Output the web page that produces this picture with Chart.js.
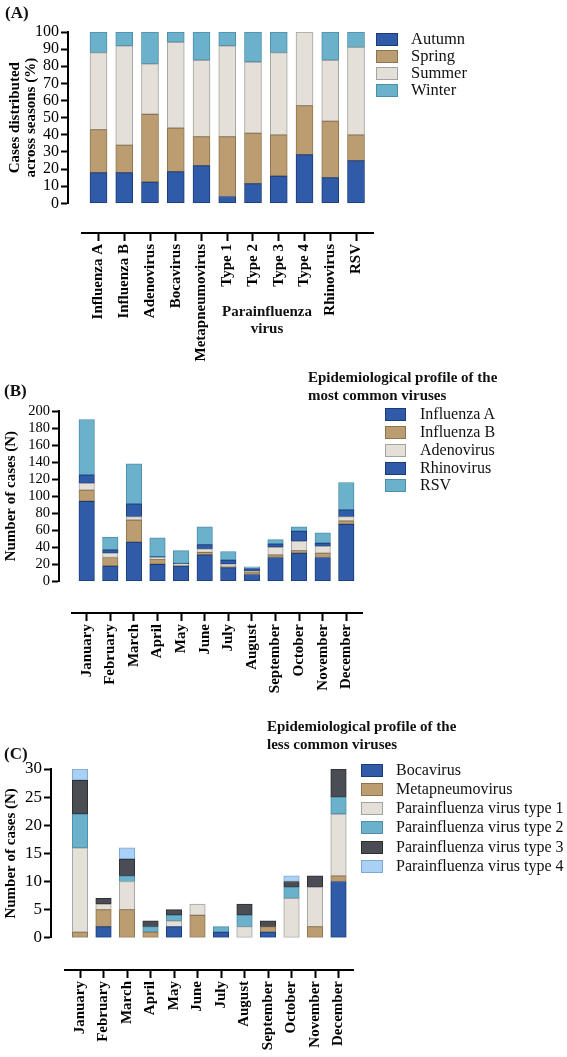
<!DOCTYPE html>
<html><head><meta charset="utf-8">
<script src="https://cdn.jsdelivr.net/npm/chart.js@4.4.1/dist/chart.umd.min.js"></script>
<style>
html,body{margin:0;padding:0;background:#fff;}
body{width:567px;height:1057px;position:relative;overflow:hidden;font-family:"Liberation Serif","Times New Roman",serif;color:#111;}
canvas{position:absolute;}
.t{position:absolute;white-space:nowrap;z-index:2;}
.b{font-weight:bold;}
.sw{position:absolute;box-sizing:border-box;border:1px solid #333;z-index:2;}
</style></head>
<body>
<canvas id="aBars" width="380" height="215" style="left:0;top:0"></canvas>
<canvas id="aAxis" width="395" height="145" style="left:0;top:229px"></canvas>
<canvas id="bBars" width="380" height="212" style="left:0;top:380px"></canvas>
<canvas id="bAxis" width="380" height="90" style="left:0;top:609px"></canvas>
<canvas id="cBars" width="370" height="200" style="left:0;top:750px"></canvas>
<canvas id="cAxis" width="370" height="91" style="left:0;top:966px"></canvas>
<script>
// ---------- DATA ----------
const virusLabels = ['Influenza A','Influenza B','Adenovirus','Bocavirus','Metapneumovirus','Type 1','Type 2','Type 3','Type 4','Rhinovirus','RSV'];
const seasonNames = ['Autumn','Spring','Summer','Winter'];
const autumnPct = [18,18,12.5,18.5,22,4,11.5,16,28.5,15,25];
const springPct = [25,16,39.5,25.5,17,35,29.5,24,28.5,33,15];
const summerPct = [45,58,29.5,50,44.5,53,41.5,48,43,35.5,51];
const winterPct = [12,8,18.5,6,16.5,8,17.5,12,0,16.5,9];

const months = ['January','February','March','April','May','June','July','August','September','October','November','December'];
const commonNames = ['Influenza A','Influenza B','Adenovirus','Rhinovirus','RSV'];
const influenzaA = [94,18,46,20,18,31,16,8,28,33,28,67];
const influenzaB = [13,10,26,6,1,3,2,3,3,3,5,4];
const adenovirus = [8,5,4,2,1,4,2,1,9,11,8,5];
const rhinovirus = [10,4,15,1,1,5,5,3,4,12,4,8];
const rsv = [65,15,47,22,15,21,10,2,5,5,12,32];

const lessNames = ['Bocavirus','Metapneumovirus','Parainfluenza virus type 1','Parainfluenza virus type 2','Parainfluenza virus type 3','Parainfluenza virus type 4'];
const bocavirus = [0,2,0,0,2,0,1,0,1,0,0,10];
const metapneumovirus = [1,3,5,1,0,4,0,0,1,0,2,1];
const para1 = [15,1,5,0,1,2,0,2,0,7,7,11];
const para2 = [6,0,1,1,1,0,1,2,0,2,0,3];
const para3 = [6,1,3,1,1,0,0,2,1,1,2,5];
const para4 = [2,0,2,0,0,0,0,0,0,1,0,0];

const pctTicks = [0,100,10];
const commonTicks = [0,200,20];
const lessTicks = [0,30,5];

// ---------- STYLE ----------
const FAM = "'Liberation Serif','Times New Roman',serif";
Chart.defaults.font.family = FAM;
Chart.defaults.color = '#000';
const COL = {
  blue:['#2f5ba8','#1b3b78'], tan:['#bb9d71','#8c744e'], beige:['#e4e0d8','#a3a3a3'],
  lblue:['#6bb1cc','#4b8ea9'], dgrey:['#4a4d53','#2c2e32'], sky:['#a9d0f5','#7ea8d2']
};

function ds(name, values, c){
  return {label:name, data: values.map((v,i)=>({x:i,y:v})), backgroundColor:c[0], borderColor:c[1],
          borderWidth:1, borderSkipped:false};
}

function barChart(id, g, datasets, ticks, title, tickSize, titlePad){
  const padTop = g.areaTop - g.top, padBottom = g.top + g.height - g.areaBottom, padRight = 6;
  const areaRight = g.width - padRight;
  new Chart(document.getElementById(id), {
    type:'bar',
    data:{datasets},
    options:{
      responsive:false, animation:false, events:[],
      layout:{padding:{top:padTop,bottom:padBottom,left:0,right:padRight}},
      plugins:{legend:{display:false},tooltip:{enabled:false}},
      datasets:{bar:{barThickness:g.barW}},
      scales:{
        x:{type:'linear', display:false, stacked:true, offset:false, grid:{offset:false},
           min:(g.axisX - g.first)/g.step, max:(areaRight - g.first)/g.step},
        y:{stacked:true, min:ticks[0], max:ticks[1],
           afterFit:s=>{s.width = g.axisX;},
           ticks:{stepSize:ticks[2], autoSkip:false, font:{size:tickSize}, color:'#000', padding:2},
           grid:{display:true, drawOnChartArea:false, drawTicks:true, tickLength:7, tickWidth:2, tickColor:'#000'},
           border:{display:true, color:'#000', width:2},
           title:{display:true, text:title, color:'#000', font:{size:15, weight:'bold', lineHeight:1.05}, padding:{top:titlePad,bottom:2}}
        }
      }
    }
  });
}

function axisChart(id, g, labels){
  const padLeft = g.lineL - g.left, padRight = g.left + g.width - g.lineR;
  new Chart(document.getElementById(id), {
    type:'bar',
    data:{datasets:[]},
    options:{
      responsive:false, animation:false, events:[],
      layout:{padding:{top:0,bottom:0,left:padLeft,right:padRight}},
      plugins:{legend:{display:false},tooltip:{enabled:false}},
      scales:{
        x:{type:'linear', offset:false, min:(g.lineL - g.first)/g.step, max:(g.lineR - g.first)/g.step,
           afterFit:s=>{s.height = g.top + g.height - g.lineY;},
           ticks:{stepSize:1, includeBounds:false, autoSkip:false, minRotation:90, maxRotation:90, padding:3,
                  font:{size:15, weight:'bold'}, color:'#000',
                  callback:v=> (Number.isInteger(v) && labels[v]!==undefined) ? labels[v] : ''},
           grid:{display:true, offset:false, drawOnChartArea:false, drawTicks:true, tickLength:8, tickWidth:2, tickColor:'#000'},
           border:{display:true, color:'#000', width:2}
        },
        y:{display:false, min:0, max:1}
      }
    }
  });
}

// Panel A
barChart('aBars', {top:0,height:215,width:380,areaTop:32,areaBottom:207,axisX:68,first:98.5,step:25.75,barW:17},
  [ds(seasonNames[0],autumnPct,COL.blue), ds(seasonNames[1],springPct,COL.tan), ds(seasonNames[2],summerPct,COL.beige), ds(seasonNames[3],winterPct,COL.lblue)],
  pctTicks, ['Cases distributed','across seasons (%)'], 16, 7);
axisChart('aAxis', {left:0,top:229,width:395,height:145,lineY:233,lineL:82,lineR:373,first:98.5,step:25.75}, virusLabels);

// Panel B
barChart('bBars', {top:380,height:212,width:380,areaTop:411,areaBottom:584,axisX:59,first:86.7,step:23.6,barW:15.5},
  [ds(commonNames[0],influenzaA,COL.blue), ds(commonNames[1],influenzaB,COL.tan), ds(commonNames[2],adenovirus,COL.beige), ds(commonNames[3],rhinovirus,COL.blue), ds(commonNames[4],rsv,COL.lblue)],
  commonTicks, 'Number of cases (N)', 14.5, 3);
axisChart('bAxis', {left:0,top:609,width:380,height:90,lineY:613,lineL:72,lineR:362,first:86.7,step:23.6}, months);

// Panel C
barChart('cBars', {top:750,height:200,width:370,areaTop:769,areaBottom:942,axisX:51,first:80,step:23.5,barW:15.5},
  [ds(lessNames[0],bocavirus,COL.blue), ds(lessNames[1],metapneumovirus,COL.tan), ds(lessNames[2],para1,COL.beige), ds(lessNames[3],para2,COL.lblue), ds(lessNames[4],para3,COL.dgrey), ds(lessNames[5],para4,COL.sky)],
  lessTicks, 'Number of cases (N)', 17, 3);
axisChart('cAxis', {left:0,top:966,width:370,height:91,lineY:970,lineL:65,lineR:353,first:80,step:23.5}, months);

// ---------- HTML text / legends ----------
function text(str, left, top, size, bold, extra){
  const d = document.createElement('div');
  d.className = 't' + (bold ? ' b' : '');
  d.style.left = left+'px'; d.style.top = top+'px'; d.style.fontSize = size+'px';
  if (extra) Object.assign(d.style, extra);
  d.innerHTML = str;
  document.body.appendChild(d);
  return d;
}
function legend(names, cols, boxL, boxW, boxH, textL, rowCenters, size){
  names.forEach((n,i)=>{
    const s = document.createElement('div');
    s.className = 'sw';
    s.style.left = boxL+'px'; s.style.top = (rowCenters[i]-boxH/2)+'px';
    s.style.width = boxW+'px'; s.style.height = boxH+'px';
    s.style.background = cols[i][0]; s.style.borderColor = cols[i][1];
    document.body.appendChild(s);
    text(n, textL, rowCenters[i]-size*0.6, size, false, {lineHeight:(size*1.2)+'px'});
  });
}
text('(A)', 5, 3, 17, true);
text('(B)', 4, 381, 17, true);
text('(C)', 4, 744, 17, true);

text('Parainfluenza<br>virus', 267, 303, 15, true, {transform:'translateX(-50%)', textAlign:'center', lineHeight:'17px'});

legend(seasonNames, [COL.blue,COL.tan,COL.beige,COL.lblue], 376, 22, 13, 411, [39,56,73,90], 16.5);

text('Epidemiological profile of the<br>most common viruses', 308, 368, 15, true, {lineHeight:'18px'});
legend(commonNames, [COL.blue,COL.tan,COL.beige,COL.blue,COL.lblue], 385, 21, 13, 420, [414,432,450,468,485], 16);

text('Epidemiological profile of the<br>less common viruses', 267, 717, 15, true, {lineHeight:'18px'});
legend(lessNames, [COL.blue,COL.tan,COL.beige,COL.lblue,COL.dgrey,COL.sky], 361, 22, 13, 396, [770,789,808,827,847,866], 16);
</script>
</body></html>
